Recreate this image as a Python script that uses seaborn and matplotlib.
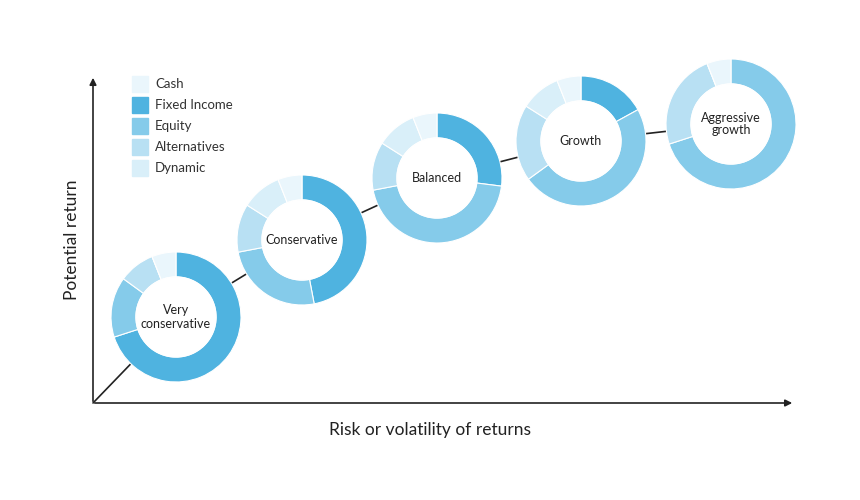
import matplotlib
matplotlib.use("Agg")
import matplotlib.pyplot as plt
import seaborn as sns
import pandas as pd

sns.set_theme(style="white")
plt.rcParams['font.family'] = ['Lato', 'DejaVu Sans']

portfolios = ["Very\nconservative", "Conservative", "Balanced", "Growth", "Aggressive\ngrowth"]
fixed_income = [70, 47, 27, 17, 0]
equity = [15, 25, 45, 48, 70]
alternatives = [9, 12, 12, 19, 24]
dynamic = [0, 10, 10, 10, 0]
cash = [6, 6, 6, 6, 6]
categories = ["Cash", "Fixed Income", "Equity", "Alternatives", "Dynamic"]
colors = {"Cash": "#EAF6FC", "Fixed Income": "#4FB3E0", "Equity": "#85CBEA",
          "Alternatives": "#B8E0F3", "Dynamic": "#D9EFF9"}
cx = [176, 302, 437, 581, 731]
cy = [317, 240, 178, 141, 124]

fig = plt.figure(figsize=(8.6, 5.0), dpi=100)
ax = fig.add_axes([0, 0, 1, 1])
ax.set_xlim(0, 860); ax.set_ylim(0, 500); ax.axis("off")

line_df = pd.DataFrame({"x": [93] + cx, "y": [500 - 403] + [500 - v for v in cy]})
sns.lineplot(data=line_df, x="x", y="y", ax=ax, color="#222222", lw=1.2, zorder=1, sort=False)

ax.annotate("", xy=(795, 97), xytext=(92, 97), arrowprops=dict(arrowstyle="-|>", color="#222", lw=1.2, mutation_scale=10))
ax.annotate("", xy=(93, 425), xytext=(93, 96), arrowprops=dict(arrowstyle="-|>", color="#222", lw=1.2, mutation_scale=10))
ax.text(430, 70, "Risk or volatility of returns", ha="center", va="center", fontsize=12.5, color="#222")
ax.text(72, 260, "Potential return", ha="center", va="center", rotation=90, fontsize=12.5, color="#222")

for i, name in enumerate(portfolios):
    vals = [fixed_income[i], equity[i], alternatives[i], dynamic[i], cash[i]]
    cols = [colors[c] for c in ["Fixed Income", "Equity", "Alternatives", "Dynamic", "Cash"]]
    ax.pie(vals, colors=cols, startangle=90, counterclock=False, radius=65,
           center=(cx[i], 500 - cy[i]), wedgeprops=dict(width=25, edgecolor="white", linewidth=0.8),
           frame=True)
    ax.add_patch(plt.Circle((cx[i], 500 - cy[i]), 40, color="white", zorder=3))
    ax.text(cx[i], 500 - cy[i], name, ha="center", va="center", fontsize=9, color="#222", zorder=4, linespacing=1.1)

ax.set_xlim(0, 860); ax.set_ylim(0, 500); ax.axis("off")
for j, c in enumerate(categories):
    y = 500 - (84 + 21 * j)
    ax.add_patch(plt.Rectangle((132, y - 8), 16, 16, color=colors[c], zorder=5))
    ax.text(155, y, c, va="center", fontsize=9.5, color="#333")

fig.savefig("out.png", dpi=100)
